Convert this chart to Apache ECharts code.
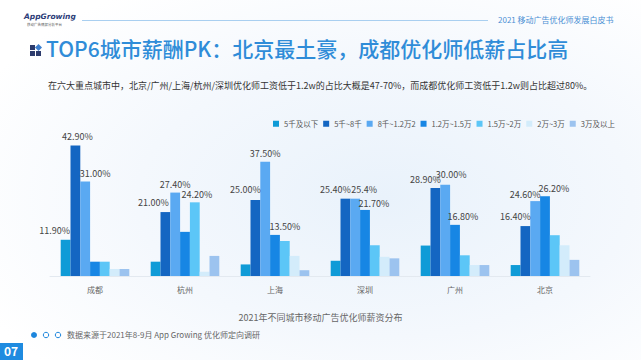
<!DOCTYPE html>
<html>
<head>
<meta charset="utf-8">
<script src="https://cdn.jsdelivr.net/npm/echarts@6/dist/echarts.min.js"></script>
<style>
html,body{margin:0;padding:0;}
body{width:641px;height:360px;overflow:hidden;background:radial-gradient(ellipse 70% 70% at 60% 55%, #e9f2fb 0%, #f4f8fd 55%, #ffffff 100%);}
#c{width:641px;height:360px;}
</style>
</head>
<body>
<div id="c"></div>
<script>
// ---- data ----
const categories = ['成都', '杭州', '上海', '深圳', '广州', '北京'];
const seriesNames = ['5千及以下', '5千~8千', '8千~1.2万2', '1.2万~1.5万', '1.5万~2万', '2万~3万', '3万及以上'];
const s1 = [11.9, 4.7, 3.8, 5.0, 10.0, 3.6];
const s2 = [42.9, 21.0, 25.0, 25.4, 28.9, 16.4];
const s3 = [31.0, 27.4, 37.5, 25.4, 30.0, 24.6];
const s4 = [4.7, 14.5, 13.5, 21.7, 16.8, 26.2];
const s5 = [4.7, 24.2, 11.5, 10.1, 6.8, 13.4];
const s6 = [2.3, 1.4, 6.6, 6.3, 3.6, 10.1];
const s7 = [2.3, 6.6, 1.9, 5.8, 3.6, 5.3];
// value labels as printed in the chart ('' = not shown)
const lab1 = ['11.90%', '', '', '', '', ''];
const lab2 = ['42.90%', '21.00%', '25.00%', '25.40%', '28.90%', '16.40%'];
const lab3 = ['31.00%', '27.40%', '37.50%', '25.4%', '30.00%', '24.60%'];
const lab4 = ['', '', '13.50%', '21.70%', '16.80%', '26.20%'];
const lab5 = ['', '24.20%', '', '', '', ''];
const lab6 = ['', '', '', '', '', ''];
const lab7 = ['', '', '', '', '', ''];
const chartTitle = '2021年不同城市移动广告优化师薪资分布';

// ---- style ----
const colors = ['#0f9bd7', '#1466c2', '#5aa9f2', '#1786e4', '#5cc6f7', '#d3ecfb', '#9cc3ef'];
const labelOffsets = [
  [[-11, -1], null, null, null, null, null],
  [[2, 0], [-12, -1], [-10, -2], [-10, -1], [-10, 0], [-10, -1]],
  [[10, 0], [0, 0], [0, 0], [9, -1], [6, -2], [-10, 2]],
  [null, null, [10, 0], [9, 2], [8, 0], [9, 1]],
  [null, [2, 1], null, null, null, null],
  [null, null, null, null, null, null],
  [null, null, null, null, null, null]
];
const FONT = '"Noto Sans CJK SC", "Noto Sans", sans-serif';

const values = [s1, s2, s3, s4, s5, s6, s7];
const labels = [lab1, lab2, lab3, lab4, lab5, lab6, lab7];

const series = values.map((vals, i) => ({
  name: seriesNames[i],
  type: 'bar',
  barWidth: 9.8,
  barGap: '0%',
  itemStyle: { color: colors[i] },
  label: { show: false },
  data: vals.map((v, j) => labels[i][j] ? {
    value: v,
    label: {
      show: true, position: 'top', distance: 4,
      formatter: labels[i][j],
      offset: labelOffsets[i][j] || [0, 0],
      color: '#444', fontSize: 9, fontFamily: FONT
    }
  } : v)
}));

const chart = echarts.init(document.getElementById('c'), null, { renderer: 'svg' });
chart.setOption({
  animation: false,
  textStyle: { fontFamily: FONT },
  title: {
    text: chartTitle, left: 'center', top: 308,
    textStyle: { fontSize: 9, color: '#666', fontWeight: 'normal', fontFamily: FONT }
  },
  legend: {
    data: seriesNames, left: 273, top: 120, width: 400, padding: 0,
    icon: 'rect', itemWidth: 6, itemHeight: 6, itemGap: 5,
    textStyle: { fontSize: 7.5, color: '#555', fontFamily: FONT }
  },
  grid: { left: 50, right: 51, top: 139, bottom: 84, containLabel: false },
  xAxis: {
    type: 'category', data: categories,
    axisLine: { lineStyle: { color: '#e3e9f0' } },
    axisTick: { show: false },
    axisLabel: { color: '#666', fontSize: 8, margin: 9, fontFamily: FONT }
  },
  yAxis: { type: 'value', min: 0, max: 45, show: false, splitLine: { show: false } },
  series: series,
  graphic: [
    // header logo
    { type: 'text', left: 24, top: 12, style: { text: 'AppGrowing', font: 'italic bold 7.5px "DejaVu Sans", sans-serif', fill: '#2d3d78' } },
    { type: 'text', left: 27, top: 23, style: { text: '移动广告情报分析平台', font: '3.5px ' + FONT, fill: '#555' } },
    { type: 'line', shape: { x1: 82, y1: 20.5, x2: 488, y2: 20.5 }, style: { stroke: '#a9cff0', lineWidth: 1 } },
    { type: 'text', left: 498, top: 15, style: { text: '2021 移动广告优化师发展白皮书', font: '8px ' + FONT, fill: '#4a8fd4' } },
    // title icon
    { type: 'rect', shape: { x: 30, y: 45, width: 5, height: 5 }, style: { fill: '#2c3b6c' } },
    { type: 'rect', shape: { x: 30, y: 51, width: 5, height: 5 }, style: { fill: '#2c3b6c' } },
    { type: 'rect', shape: { x: 36, y: 51, width: 5, height: 5 }, style: { fill: '#2c3b6c' } },
    { type: 'rect', shape: { x: -2.5, y: -2.5, width: 5, height: 5 }, x: 38.5, y: 47.5, rotation: Math.PI / 4, style: { fill: '#3d7fcf' } },
    { type: 'text', left: 46, top: 37, style: { text: 'TOP6城市薪酬PK：北京最土豪，成都优化师低薪占比高', font: '500 21px ' + FONT, fill: '#2f8cd8' } },
    // subtitle
    { type: 'text', left: 48, top: 81, style: { text: '在六大重点城市中，北京/广州/上海/杭州/深圳优化师工资低于1.2w的占比大概是47-70%，而成都优化师工资低于1.2w则占比超过80%。', font: '9px ' + FONT, fill: '#333' } },
    // footer
    { type: 'circle', shape: { cx: 34, cy: 335, r: 3 }, style: { fill: '#1d86dd' } },
    { type: 'circle', shape: { cx: 46, cy: 335, r: 2.7 }, style: { fill: 'none', stroke: '#1d86dd', lineWidth: 1 } },
    { type: 'circle', shape: { cx: 58, cy: 335, r: 2.7 }, style: { fill: 'none', stroke: '#1d86dd', lineWidth: 1 } },
    { type: 'text', left: 67, top: 330, style: { text: '数据来源于2021年8-9月 App Growing 优化师定向调研', font: '8px ' + FONT, fill: '#666' } },
    { type: 'rect', shape: { x: 0, y: 343, width: 23, height: 17 }, style: { fill: '#1f8be0' } },
    { type: 'text', left: 4, top: 344, style: { text: '07', font: 'bold 12px ' + FONT, fill: '#fff' } }
  ]
});
</script>
</body>
</html>
